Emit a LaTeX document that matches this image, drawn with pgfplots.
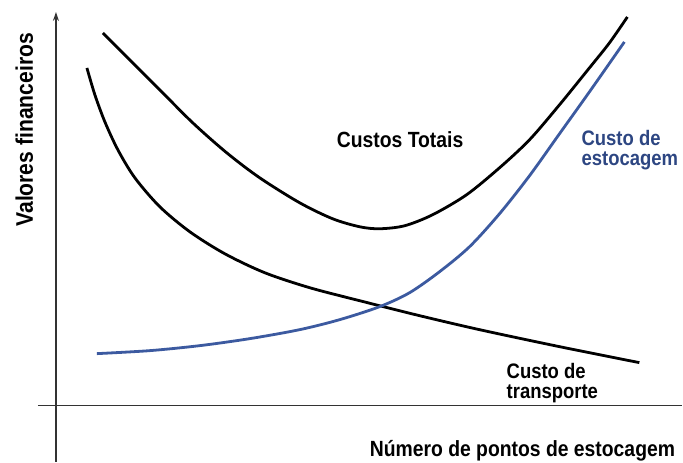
\documentclass[border=0pt]{standalone}
\usepackage{pgfplots}
\pgfplotsset{compat=1.18}
\usetikzlibrary{arrows.meta}
\usepackage{fontspec}
\setmainfont{Liberation Sans}[FakeStretch=0.88]
\definecolor{stockline}{RGB}{60,90,160}
\definecolor{stocktext}{RGB}{45,70,130}
\begin{document}
\begin{tikzpicture}
\begin{axis}[
  scale only axis, width=683bp, height=462bp,
  xmin=0, xmax=683, ymin=0, ymax=462,
  axis lines=none, clip=false,
]
\path (axis cs:0,0) (axis cs:683,462);
% axes
\draw[line width=1.4bp, black!80, -{Stealth[length=9bp,width=6bp]}] (axis cs:56,0) -- (axis cs:56,450);
\draw[line width=1.4bp, black!80] (axis cs:38,56) -- (axis cs:683,56);
% Custos totais
\addplot[black, line width=2.8bp, smooth] coordinates {
(103,429)(127,405)(160,372)(193,339)(227,309)(260,284)(300,259)(333,243)(360,235)(380,233)(405,236)(433,247)(467,267)(500,294)(530,322)(560,357)(590,394)(610,419)(628,445)};
% Custo de transporte
\addplot[black, line width=2.8bp, smooth] coordinates {
(87,394)(95,367)(105,340)(118,312)(135,284)(160,255)(190,230)(225,208)(265,189)(310,174)(360,161)(420,146)(480,132)(560,115)(640,99)};
% Custo de estocagem
\addplot[stockline, line width=2.8bp, smooth] coordinates {
(97,108)(150,111)(200,116)(250,123)(300,132)(340,142)(380,155)(410,169)(440,190)(470,215)(500,248)(530,286)(560,328)(590,370)(625,420)};
% texts
\node[anchor=base west, font=\fontsize{22bp}{24bp}\selectfont\bfseries, inner sep=0pt] at (axis cs:337,314) {Custos Totais};
\node[anchor=north west, align=left, font=\fontsize{21bp}{20bp}\selectfont\bfseries, inner sep=0pt] at (axis cs:507,99) {Custo de\\transporte};
\node[anchor=north west, align=left, font=\fontsize{21bp}{20bp}\selectfont\bfseries, inner sep=0pt, text=stocktext] at (axis cs:582,332) {Custo de\\estocagem};
\node[anchor=base west, font=\fontsize{22bp}{24bp}\selectfont\bfseries, inner sep=0pt] at (axis cs:370,5) {Número de pontos de estocagem};
\node[anchor=base, rotate=90, font=\fontsize{24bp}{26bp}\selectfont\bfseries, inner sep=0pt] at (axis cs:33,332) {Valores financeiros};
\end{axis}
\end{tikzpicture}
\end{document}
